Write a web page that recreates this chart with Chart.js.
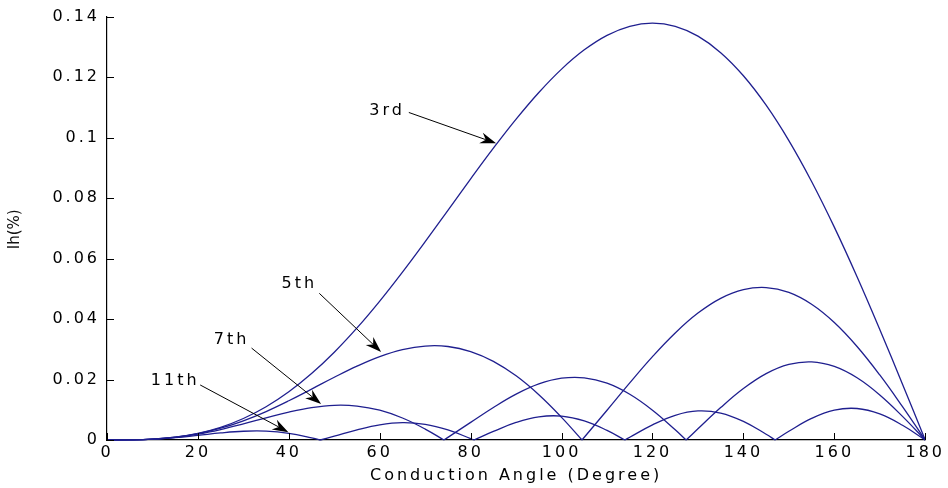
<!DOCTYPE html>
<html>
<head>
<meta charset="utf-8">
<script src="https://cdn.jsdelivr.net/npm/chart.js@4.4.1/dist/chart.umd.min.js"></script>
<style>
  html, body { margin: 0; padding: 0; background: #fff; }
  canvas { display: block; }
</style>
</head>
<body>
<canvas id="harmonics-chart" width="948" height="488"></canvas>
<script>
// Conduction angle (degree), common grid for all curves
const angles = [0, 5, 10, 15, 20, 25, 30, 35, 40, 45, 50, 55, 60, 65, 70, 75, 80, 85, 90,
  95, 100, 105, 110, 115, 120, 125, 130, 135, 140, 145, 150, 155, 160, 165, 170, 175, 180];

// Harmonic magnitude Ih
const ih3 = [0, 0.00004, 0.00028, 0.00094, 0.00219, 0.00420, 0.00711, 0.01101, 0.01596, 0.02198,
  0.02903, 0.03706, 0.04594, 0.05552, 0.06560, 0.07596, 0.08635, 0.09649, 0.10610, 0.11491,
  0.12264, 0.12901, 0.13381, 0.13680, 0.13783, 0.13677, 0.13353, 0.12808, 0.12045, 0.11071,
  0.09900, 0.08548, 0.07039, 0.05399, 0.03657, 0.01846, 0];
const ih5 = [0, 0.00004, 0.00028, 0.00091, 0.00208, 0.00389, 0.00635, 0.00941, 0.01297, 0.01683,
  0.02074, 0.02442, 0.02757, 0.02988, 0.03107, 0.03092, 0.02926, 0.02602, 0.02122, 0.01497,
  0.00749, 0.00091, 0.00985, 0.01889, 0.02757, 0.03540, 0.04196, 0.04684, 0.04972, 0.05041,
  0.04879, 0.04488, 0.03884, 0.03092, 0.02150, 0.01102, 0];
const ih7 = [0, 0.00003, 0.00027, 0.00087, 0.00193, 0.00345, 0.00531, 0.00733, 0.00924, 0.01072,
  0.01147, 0.01123, 0.00985, 0.00727, 0.00362, 0.00087, 0.00582, 0.01075, 0.01516, 0.01853,
  0.02043, 0.02056, 0.01877, 0.01512, 0.00985, 0.00338, 0.00369, 0.01072, 0.01702, 0.02195,
  0.02500, 0.02584, 0.02432, 0.02056, 0.01489, 0.00781, 0];
const ih11 = [0, 0.00003, 0.00026, 0.00077, 0.00152, 0.00233, 0.00289, 0.00292, 0.00220, 0.00073,
  0.00126, 0.00335, 0.00501, 0.00573, 0.00518, 0.00333, 0.00046, 0.00283, 0.00579, 0.00766,
  0.00790, 0.00632, 0.00317, 0.00091, 0.00501, 0.00818, 0.00962, 0.00892, 0.00616, 0.00191,
  0.00289, 0.00715, 0.00988, 0.01041, 0.00861, 0.00486, 0];

// Angles where a curve touches zero (sharp notches)
const zeros3 = [];
const zeros5 = [104.5];
const zeros7 = [74.1, 127.4];
const zeros11 = [46.9, 80.7, 113.9, 147.0];

// Axis ticks
const xTicks = [0, 20, 40, 60, 80, 100, 120, 140, 160, 180];
const yTicks = [0, 0.02, 0.04, 0.06, 0.08, 0.1, 0.12, 0.14];

// Labels with arrows (data units)
const annoText = ['3rd', '5th', '7th', '11th'];
const annoTextX = [61.6, 42.3, 27.4, 15.0];
const annoTextY = [0.1090, 0.0515, 0.0330, 0.0195];
const arrowFromX = [66.4, 46.7, 31.8, 20.5];
const arrowFromY = [0.1083, 0.0485, 0.0304, 0.0182];
const arrowToX = [85.6, 60.3, 47.1, 39.9];
const arrowToY = [0.0981, 0.0291, 0.0119, 0.0026];

const lineColor = '#1f1f8f';
const fontFamily = '"DejaVu Sans", sans-serif';

// Turn an array into {x,y} points, splitting the line at each zero so the notch stays sharp
function buildPoints(values, zeros) {
    const pts = angles.map((a, i) => ({ x: a, y: values[i] }));
    zeros.forEach(z => {
        pts.push({ x: z, y: 0 }, { x: z, y: null }, { x: z, y: 0 });
    });
    return pts.sort((a, b) => a.x - b.x);
}

function makeDataset(label, values, zeros) {
    return {
        label: label,
        data: buildPoints(values, zeros),
        borderColor: lineColor,
        borderWidth: 1.3,
        pointRadius: 0,
        tension: 0.4,
        spanGaps: false,
        fill: false,
        clip: false
    };
}

// Wide letter spacing, like the stretched text of the figure
const spacingPlugin = {
    id: 'spacing',
    beforeLayout(chart) { chart.ctx.letterSpacing = '3px'; },
    beforeDraw(chart) {
        chart.ctx.letterSpacing = '3px';
        const ctx = chart.ctx;
        ctx.save();
        ctx.fillStyle = '#fff';
        ctx.fillRect(0, 0, chart.width, chart.height);
        ctx.restore();
    }
};

// Inward ticks, arrow labels and the y title
const decorPlugin = {
    id: 'decor',
    afterDraw(chart) {
        const ctx = chart.ctx;
        const xs = chart.scales.x;
        const ys = chart.scales.y;
        const area = chart.chartArea;

        ctx.save();
        ctx.strokeStyle = '#000';
        ctx.lineWidth = 1;
        ctx.beginPath();
        xTicks.forEach(v => {
            const px = Math.round(xs.getPixelForValue(v)) + 0.5;
            ctx.moveTo(px, area.bottom);
            ctx.lineTo(px, area.bottom - 7);
        });
        yTicks.forEach(v => {
            const py = Math.round(ys.getPixelForValue(v)) + 0.5;
            ctx.moveTo(area.left, py);
            ctx.lineTo(area.left + 7, py);
        });
        ctx.stroke();

        // arrows
        ctx.fillStyle = '#000';
        annoText.forEach((t, i) => {
            const x1 = xs.getPixelForValue(arrowFromX[i]);
            const y1 = ys.getPixelForValue(arrowFromY[i]);
            const x2 = xs.getPixelForValue(arrowToX[i]);
            const y2 = ys.getPixelForValue(arrowToY[i]);
            const len = Math.hypot(x2 - x1, y2 - y1);
            const ux = (x2 - x1) / len, uy = (y2 - y1) / len;
            const nx = -uy, ny = ux;
            const L = 16, W = 5.5, notch = 11;
            ctx.beginPath();
            ctx.moveTo(x1, y1);
            ctx.lineTo(x2 - ux * notch, y2 - uy * notch);
            ctx.stroke();
            ctx.beginPath();
            ctx.moveTo(x2, y2);
            ctx.lineTo(x2 - ux * L + nx * W, y2 - uy * L + ny * W);
            ctx.lineTo(x2 - ux * notch, y2 - uy * notch);
            ctx.lineTo(x2 - ux * L - nx * W, y2 - uy * L - ny * W);
            ctx.closePath();
            ctx.fill();

            ctx.font = '16px ' + fontFamily;
            ctx.letterSpacing = '3px';
            ctx.fillStyle = '#000';
            ctx.textAlign = 'center';
            ctx.textBaseline = 'middle';
            ctx.fillText(t, xs.getPixelForValue(annoTextX[i]), ys.getPixelForValue(annoTextY[i]));
        });

        // y axis title
        ctx.letterSpacing = '0px';
        ctx.font = '15px ' + fontFamily;
        ctx.fillStyle = '#111';
        ctx.translate(15, (area.top + area.bottom) / 2 + 1);
        ctx.rotate(-Math.PI / 2);
        ctx.textAlign = 'center';
        ctx.textBaseline = 'middle';
        ctx.fillText('Ih(%)', 0, 0);
        ctx.restore();
    }
};

const harmonicsCanvas = document.getElementById('harmonics-chart');

const harmonicsChart = new Chart(harmonicsCanvas, {
    type: 'line',
    data: {
        datasets: [
            makeDataset('3rd', ih3, zeros3),
            makeDataset('5th', ih5, zeros5),
            makeDataset('7th', ih7, zeros7),
            makeDataset('11th', ih11, zeros11)
        ]
    },
    options: {
        responsive: false,
        animation: false,
        events: [],
        layout: { padding: { left: 0, right: 20, top: 16, bottom: 0 } },
        plugins: {
            legend: { display: false },
            tooltip: { enabled: false }
        },
        scales: {
            x: {
                type: 'linear',
                min: 0,
                max: 180,
                afterBuildTicks: s => { s.ticks = xTicks.map(v => ({ value: v })); },
                ticks: {
                    color: '#000',
                    font: { family: fontFamily, size: 16 },
                    padding: 3,
                    maxRotation: 0,
                    autoSkip: false
                },
                grid: { display: false, drawTicks: false },
                border: { display: true, color: '#000', width: 1.2 },
                title: {
                    display: true,
                    text: 'Conduction Angle (Degree)',
                    color: '#000',
                    font: { family: fontFamily, size: 16 },
                    padding: { top: 0, bottom: 3 }
                },
                afterFit: s => { s.height = 48; }
            },
            y: {
                min: 0,
                max: 0.14,
                afterBuildTicks: s => { s.ticks = yTicks.map(v => ({ value: v })); },
                ticks: {
                    color: '#000',
                    font: { family: fontFamily, size: 16 },
                    padding: 7,
                    callback: v => String(Number(v.toFixed(2)))
                },
                grid: { display: false, drawTicks: false },
                border: { display: true, color: '#000', width: 1.2 },
                afterFit: s => { s.width = 107; }
            }
        }
    },
    plugins: [spacingPlugin, decorPlugin]
});
</script>
</body>
</html>
